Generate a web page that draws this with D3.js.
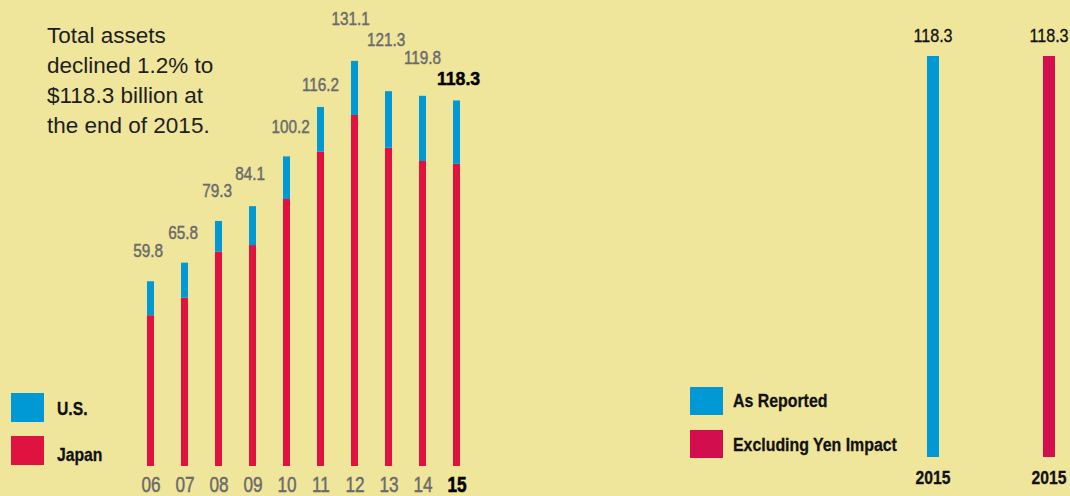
<!DOCTYPE html>
<html>
<head>
<meta charset="utf-8">
<script src="https://cdn.jsdelivr.net/npm/d3@7"></script>
<style>
  html, body { margin: 0; padding: 0; background: #EFE59B; }
  svg { display: block; }
</style>
</head>
<body>
<svg id="chart" width="1070" height="496"></svg>
<script>
// ---- data ----
const years = ["06", "07", "08", "09", "10", "11", "12", "13", "14", "15"];
const totals = [59.8, 65.8, 79.3, 84.1, 100.2, 116.2, 131.1, 121.3, 119.8, 118.3];
const japan = [48.8, 54.5, 69.4, 71.5, 86.4, 101.7, 113.6, 103.0, 98.7, 97.8];
const us = [11.0, 11.3, 9.9, 12.6, 13.8, 14.5, 17.5, 18.3, 21.1, 20.5];
const seriesNames = ["U.S.", "Japan"];
const headline = ["Total assets", "declined 1.2% to", "$118.3 billion at", "the end of 2015."];

const compareNames = ["As Reported", "Excluding Yen Impact"];
const compareValues = [118.3, 118.3];
const compareYears = ["2015", "2015"];

// ---- styling / layout (not data) ----
const BG = "#EFE59B";
const BLUE = "#0099D5";
const RED = "#E0123F";
const RED2 = "#D30E4E";
const GRAY = "#6A6A6A";
const FONT = "'Liberation Sans', Arial, Helvetica, sans-serif";
const SX = 0.85;
const labelLift = [24, 24, 24, 26, 23, 16, 36, 45, 32, 15];
const labelShift = [-2.5, -1.5, -1.5, -2.5, 4, 0, -4, -2.5, 0, 2];

const svg = d3.select("#chart");
svg.append("rect").attr("width", 1070).attr("height", 496).attr("fill", BG);

// condensed text helper: position via transform, squeeze horizontally
function ctext(parent, px, py, str, opts = {}) {
  const fill = opts.fill || "#111";
  return parent.append("text")
    .attr("transform", `translate(${px},${py}) scale(${opts.sx || SX},1)`)
    .attr("font-family", FONT)
    .attr("font-size", opts.size || 18)
    .attr("font-weight", opts.weight || "normal")
    .attr("fill", fill)
    .attr("stroke", opts.stroke ? fill : "none")
    .attr("stroke-width", opts.stroke || 0)
    .attr("text-anchor", opts.anchor || "start")
    .text(str);
}

// ---- left stacked chart ----
const x = d3.scalePoint().domain(years).range([150.5, 456.5]);
const y = d3.scaleLinear().domain([0, 150]).range([466, 2.5]);
const barW = 7;

const rows = years.map((yr, i) => ({ yr, i, japan: japan[i], us: us[i], total: totals[i] }));
const stack = d3.stack().keys(["japan", "us"])(rows);
const colorOf = { japan: RED, us: BLUE };

const gBars = svg.append("g");
stack.forEach(layer => {
  gBars.selectAll(null).data(layer).join("rect")
    .attr("x", d => x(d.data.yr) - barW / 2)
    .attr("width", barW)
    .attr("y", d => y(d[1]))
    .attr("height", d => y(d[0]) - y(d[1]))
    .attr("fill", colorOf[layer.key]);
});

// value labels
const gLab = svg.append("g");
rows.forEach(d => {
  const last = d.i === years.length - 1;
  ctext(gLab, x(d.yr) + labelShift[d.i], y(d.total) - labelLift[d.i], d3.format(".1f")(d.total), {
    size: last ? 19 : 18,
    sx: last ? 0.93 : SX,
    weight: last ? "bold" : "normal",
    fill: last ? "#000" : GRAY,
    stroke: last ? 0.5 : 0.45,
    anchor: "middle"
  });
});

// x axis
const xAxis = d3.axisBottom(x).tickSize(0).tickPadding(0);
const gx = svg.append("g").attr("transform", "translate(0,492)").call(xAxis);
gx.select(".domain").remove();
gx.attr("font-family", null).attr("font-size", null);
gx.selectAll("text")
  .attr("dy", null)
  .attr("y", 0)
  .attr("transform", "scale(0.8,1)")
  .attr("font-family", FONT)
  .attr("font-size", 21.5)
  .attr("fill", (d, i) => i === years.length - 1 ? "#000" : GRAY)
  .attr("stroke", (d, i) => i === years.length - 1 ? "#000" : GRAY)
  .attr("stroke-width", (d, i) => i === years.length - 1 ? 0.6 : 0.45)
  .attr("font-weight", (d, i) => i === years.length - 1 ? "bold" : "normal");

// headline text
const ht = svg.append("text")
  .attr("font-family", FONT)
  .attr("font-size", 22.5)
  .attr("fill", "#1E1E1E");
headline.forEach((line, i) => {
  ht.append("tspan").attr("x", 47).attr("y", 43 + i * 30).text(line);
});

// left legend
const legL = svg.append("g");
[[BLUE, seriesNames[0], 393, 415], [RED, seriesNames[1], 436, 461]].forEach(([c, t, ry, ty]) => {
  legL.append("rect").attr("x", 11).attr("y", ry).attr("width", 33).attr("height", 29).attr("fill", c);
  ctext(legL, 57, ty, t, { size: 18.5, weight: "bold", fill: "#111", stroke: 0.3 });
});

// ---- right comparison chart ----
const x2 = d3.scalePoint().domain(compareNames).range([933, 1049]);
const y2 = d3.scaleLinear().domain([0, 118.3]).range([457, 56]);
const bar2W = 12;
const cmp = compareNames.map((n, i) => ({ n, v: compareValues[i], yr: compareYears[i], c: i === 0 ? BLUE : RED2 }));

svg.append("g").selectAll("rect").data(cmp).join("rect")
  .attr("x", d => x2(d.n) - bar2W / 2)
  .attr("width", bar2W)
  .attr("y", d => y2(d.v))
  .attr("height", d => y2(0) - y2(d.v))
  .attr("fill", d => d.c);

const gR = svg.append("g");
cmp.forEach(d => {
  ctext(gR, x2(d.n), 42, d3.format(".1f")(d.v), { size: 19, fill: "#111", anchor: "middle", stroke: 0.3 });
  ctext(gR, x2(d.n), 484, d.yr, { size: 18.5, weight: "bold", fill: "#111", anchor: "middle", stroke: 0.3 });
});

// right legend
const legR = svg.append("g");
cmp.forEach((d, i) => {
  const ry = [387, 430][i], ty = [407, 451][i];
  legR.append("rect").attr("x", 690).attr("y", ry).attr("width", 33).attr("height", 28).attr("fill", d.c);
  ctext(legR, 733, ty, d.n, { size: 18.7, weight: "bold", fill: "#111", stroke: 0.3 });
});
</script>
</body>
</html>
